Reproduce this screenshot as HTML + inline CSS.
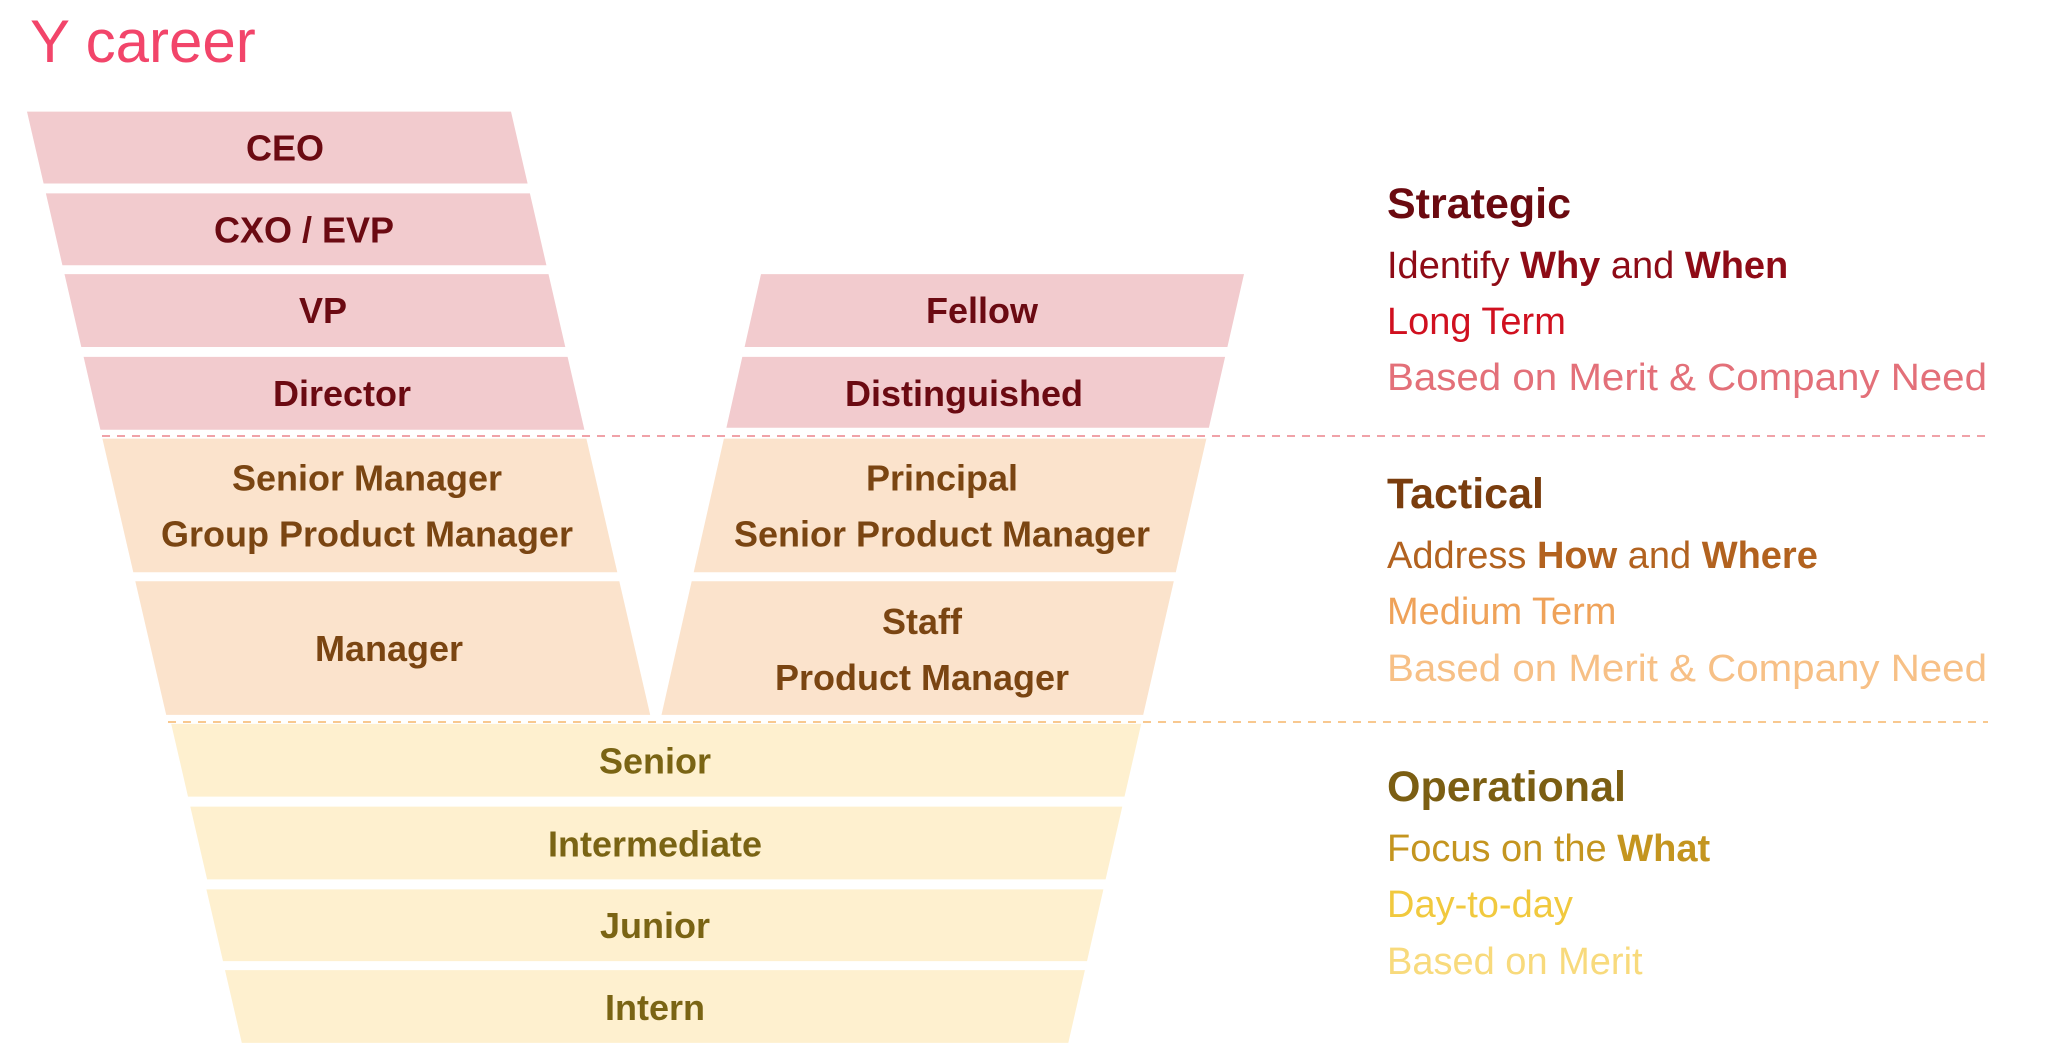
<!DOCTYPE html>
<html><head><meta charset="utf-8"><style>
html,body{margin:0;padding:0;background:#fff;}
svg{display:block;}
text{font-family:"Liberation Sans",sans-serif;}
.lb{font-size:36px;font-weight:bold;text-anchor:middle;}
.p{fill:#6b0a12}.o{fill:#7a4512}.y{fill:#7a6414}
.h{font-size:43px;font-weight:bold;}
.b{font-size:38px;}
</style></head><body>
<svg width="2048" height="1064" viewBox="0 0 2048 1064" xmlns="http://www.w3.org/2000/svg">
<text x="30" y="62" font-size="60" fill="#f2456a">Y career</text>
<g transform="translate(-3,-2) scale(1,0.997)">
<g fill="#f2cbce">
<polygon points="30,114 514,114 530.6,186 46.6,186"/>
<polygon points="48.9,196 532.9,196 549.4,268 65.4,268"/>
<polygon points="67.5,277 551.5,277 568.3,350 84.3,350"/>
<polygon points="86.6,360 570.6,360 587.4,433 103.4,433"/>
<polygon points="764,277 1247,277 1230.4,350 747.6,350"/>
<polygon points="745.3,360 1228.1,360 1211.9,431 729.4,431"/>
</g>
<g fill="#fbe3cc">
<polygon points="105.4,442 589.4,442 620.3,576 136.3,576"/>
<polygon points="138.3,585 622.3,585 653.2,719 169.2,719"/>
<polygon points="726.9,442 1209.4,442 1178.8,576 696.7,576"/>
<polygon points="694.7,585 1176.8,585 1146.2,719 664.5,719"/>
</g>
<g fill="#fef0cf">
<polygon points="174.2,728 1144.2,728 1127.5,801 191,801"/>
<polygon points="193.3,811 1125.3,811 1108.6,884 210.1,884"/>
<polygon points="209.4,894 1106.4,894 1090,966 226,966"/>
<polygon points="228,975 1087.9,975 1071.3,1048 244.8,1048"/>
</g>
<text class="lb p" x="288" y="163">CEO</text>
<text class="lb p" x="307" y="245">CXO / EVP</text>
<text class="lb p" x="326" y="326">VP</text>
<text class="lb p" x="345" y="409">Director</text>
<text class="lb p" x="985" y="326">Fellow</text>
<text class="lb p" x="967" y="409">Distinguished</text>
<text class="lb o" x="370" y="494">Senior Manager</text>
<text class="lb o" x="370" y="550">Group Product Manager</text>
<text class="lb o" x="392" y="665">Manager</text>
<text class="lb o" x="945" y="494">Principal</text>
<text class="lb o" x="945" y="550">Senior Product Manager</text>
<text class="lb o" x="925" y="638">Staff</text>
<text class="lb o" x="925" y="694">Product Manager</text>
<text class="lb y" x="658" y="778">Senior</text>
<text class="lb y" x="658" y="861">Intermediate</text>
<text class="lb y" x="658" y="943">Junior</text>
<text class="lb y" x="658" y="1025">Intern</text>
</g>
<line x1="102" y1="436" x2="1988" y2="436" stroke="#f0a2a8" stroke-width="2" stroke-dasharray="8,7"/>
<line x1="168" y1="722" x2="1988" y2="722" stroke="#f8c88f" stroke-width="2" stroke-dasharray="8,7"/>

<text class="h" x="1387" y="218" fill="#6b0a10">Strategic</text>
<text class="b" x="1387" y="278" fill="#8e0b16">Identify <tspan font-weight="bold">Why</tspan> and <tspan font-weight="bold">When</tspan></text>
<text class="b" x="1387" y="334" fill="#d0101f">Long Term</text>
<text class="b" x="1387" y="390" fill="#e37079" textLength="600" lengthAdjust="spacingAndGlyphs">Based on Merit &amp; Company Need</text>

<text class="h" x="1387" y="508" fill="#7a3d0e">Tactical</text>
<text class="b" x="1387" y="568" fill="#b2621f">Address <tspan font-weight="bold">How</tspan> and <tspan font-weight="bold">Where</tspan></text>
<text class="b" x="1387" y="624" fill="#efa259">Medium Term</text>
<text class="b" x="1387" y="681" fill="#f7c086" textLength="600" lengthAdjust="spacingAndGlyphs">Based on Merit &amp; Company Need</text>

<text class="h" x="1387" y="801" fill="#7b5e12">Operational</text>
<text class="b" x="1387" y="861" fill="#c4951f">Focus on the <tspan font-weight="bold">What</tspan></text>
<text class="b" x="1387" y="917" fill="#f1c93e">Day-to-day</text>
<text class="b" x="1387" y="974" fill="#f8da7c">Based on Merit</text>
</svg>
</body></html>
